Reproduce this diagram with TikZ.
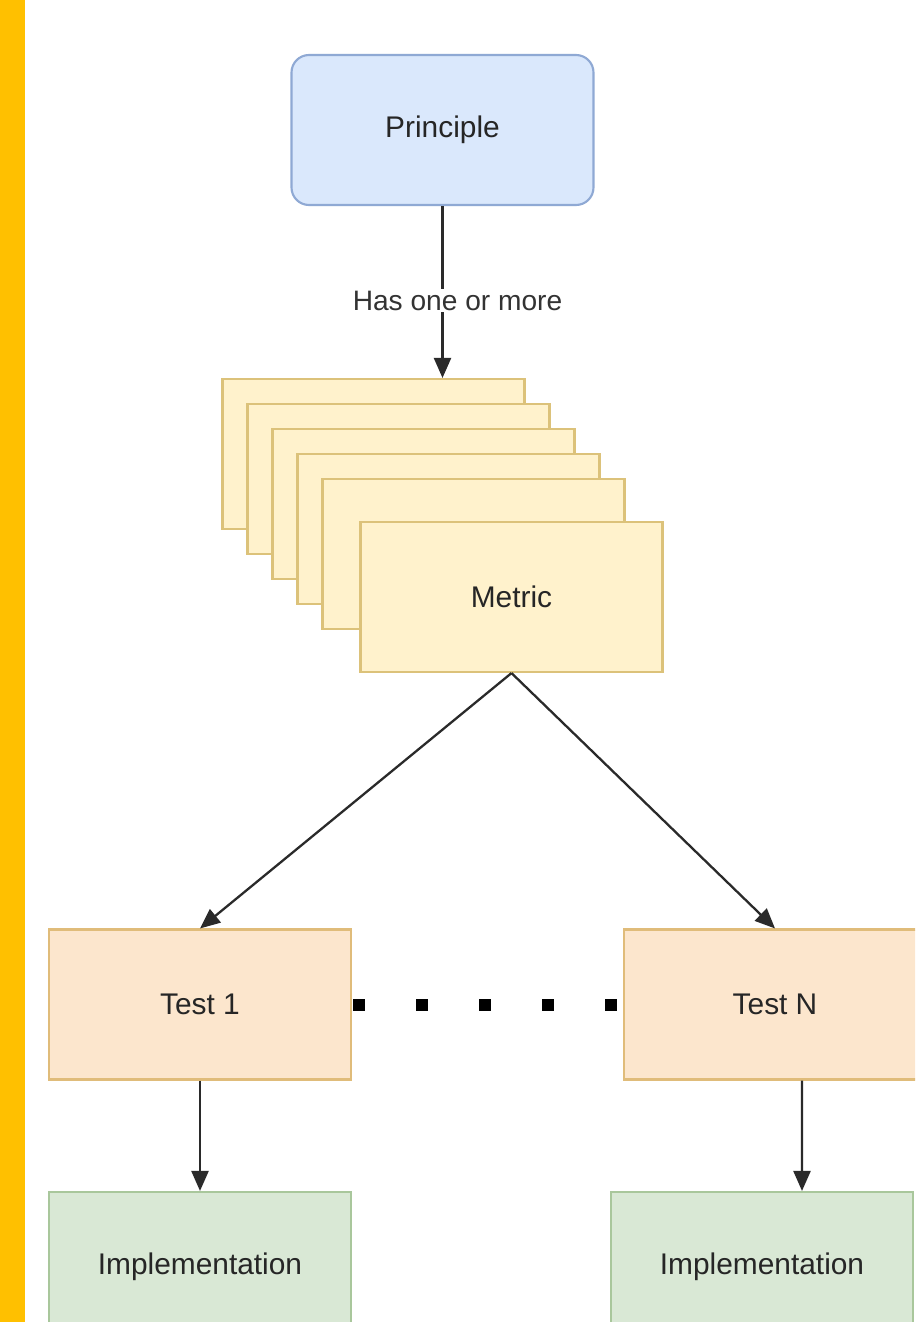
\documentclass[tikz,border=0pt]{standalone}
\usepackage{fontspec}
\setmainfont{Liberation Sans}
\definecolor{BARyellow}{HTML}{FFC000}
\definecolor{PRINfill}{HTML}{DAE8FC}
\definecolor{PRINline}{HTML}{8FA9D4}
\definecolor{METfill}{HTML}{FFF2CC}
\definecolor{METline}{HTML}{DCC27A}
\definecolor{TESTfill}{HTML}{FCE6CD}
\definecolor{TESTline}{HTML}{E0BC7A}
\definecolor{IMPLfill}{HTML}{D9E8D5}
\definecolor{IMPLline}{HTML}{A9C79C}
\definecolor{ARRgray}{HTML}{2A2A2A}
\usetikzlibrary{arrows.meta, positioning}

\tikzset{
   box/.style={draw, line width=1.2pt, minimum width=6.04cm, minimum height=3.0cm,
      font=\fontsize{17}{20}\selectfont, text=black!85},
   principlebox/.style={box, fill=PRINfill, draw=PRINline, rounded corners=0.35cm},
   metricbox/.style={box, fill=METfill, draw=METline},
   testbox/.style={box, fill=TESTfill, draw=TESTline},
   implbox/.style={box, fill=IMPLfill, draw=IMPLline},
   arrow/.style={-{Triangle[length=0.4cm, width=0.34cm]}, ARRgray, line width=1.3pt}
}

\begin{document}
\begin{tikzpicture}
      \clip (0,0) rectangle (18.3,-26.44);
      \fill[white] (0,0) rectangle (18.3,-26.44);
      \fill[BARyellow] (0,0) rectangle (0.5,-26.44);
      \node[principlebox] (principle) at (8.85,-2.6) {Principle};
      % stacked metrics behind the front one
      \foreach \i in {1,...,5}
         \node[metricbox] (m\i) at ({7.47+0.5*(\i-1)},{-9.08-0.5*(\i-1)}) {};
      \node[metricbox] (metric) at (10.23,-11.94) {Metric};
      \node[testbox] (test1) at (4.0,-20.09) {Test 1};
      \node[testbox] (testN) at (15.5,-20.09) {Test N};
      \node[implbox] (impl1) at (4.0,-25.34) {Implementation};
      \node[implbox] (implN) at (15.24,-25.34) {Implementation};
      \draw[arrow] (principle.south) -- (principle.south |- m1.north)
         node[pos=0.55, xshift=0.3cm, fill=white, inner sep=1pt, font=\fontsize{16}{19}\selectfont, text=black!80] {Has one or more};
      \draw[arrow] (metric.south) -- (test1.north);
      \draw[arrow] (metric.south) -- (testN.north);
      \draw[black, line width=0.24cm, dash pattern=on 0.24cm off 1.02cm]
         ([xshift=0.02cm]test1.east) -- (testN.west);
      \draw[arrow] (test1.south) -- (impl1.north);
      \draw[arrow] ([xshift=0.54cm]testN.south) -- ([xshift=0.8cm]implN.north);
   \end{tikzpicture}
\end{document}
